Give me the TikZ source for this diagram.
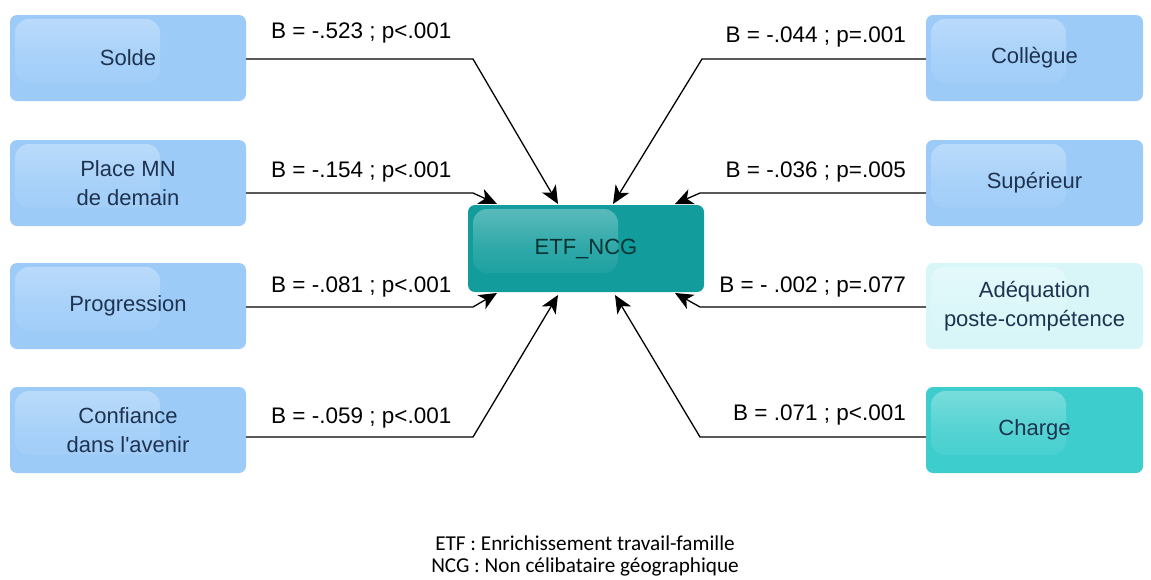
\documentclass[tikz,border=0pt]{standalone}
\usepackage{fontspec}
\setmainfont{Liberation Sans}
\newfontfamily\arialf{Liberation Sans}
\newfontfamily\calib{Carlito}
\usetikzlibrary{arrows.meta,calc}
\definecolor{lblue}{HTML}{9CCBF8}
\definecolor{teal1}{HTML}{129C9C}
\definecolor{cyanm}{HTML}{3ECDCD}
\definecolor{cyanl}{HTML}{D8F6F8}
\definecolor{navy}{HTML}{1E3350}
\definecolor{tealtxt}{HTML}{0A3434}
\tikzset{
  gbox/.style n args={3}{rectangle, rounded corners=7pt, fill=#1, text=navy,
    minimum width=#2, minimum height=86pt, inner sep=0pt, align=center,
    font=\arialf\fontsize{22}{29}\selectfont,
    path picture={\shade[rounded corners=14pt, top color=white!32!#1, bottom color=#1, middle color=white!12!#1]
      ($(path picture bounding box.north west)+(5,4)$) rectangle ++(#3,64);}},
  lab/.style={font=\arialf\fontsize{22.5}{26}\selectfont, inner sep=0pt},
  conn/.style={line width=1.3pt, -{Stealth[length=18pt,width=16pt,inset=5pt]}},
  foot/.style={font=\calib\fontsize{21.2}{24}\selectfont, align=center, inner sep=0pt}
}
\begin{document}
\begin{tikzpicture}[x=1pt,y=-1pt]
\useasboundingbox (0,0) rectangle (1151,579);
% left boxes
\node[gbox={lblue}{236pt}{145}] (solde) at (128,58) {Solde};
\node[gbox={lblue}{236pt}{145}] (pmn) at (128,183) {Place MN\\de demain};
\node[gbox={lblue}{236pt}{145}] (prog) at (128,306) {Progression};
\node[gbox={lblue}{236pt}{145}] (conf) at (128,430) {Confiance\\dans l'avenir};
% right boxes
\node[gbox={lblue}{217pt}{135}] (coll) at (1034.5,58) {Collègue};
\node[gbox={lblue}{217pt}{135}] (sup) at (1034.5,183) {Supérieur};
\node[gbox={cyanl}{217pt}{135}] (adeq) at (1034.5,306) {Adéquation\\poste-compétence};
\node[gbox={cyanm}{217pt}{135}] (charge) at (1034.5,430) {Charge};
% center
\node[gbox={teal1}{236pt}{145}, text=tealtxt, minimum height=87pt] (etf) at (586,248.5) {ETF\_NCG};
% bend and tip coordinates
\coordinate (bS) at (473,59);  \coordinate (tS) at (558,204);
\coordinate (bP) at (473,193); \coordinate (tP) at (497,204);
\coordinate (bR) at (473,307); \coordinate (tR) at (497,293);
\coordinate (bC) at (473,437); \coordinate (tC) at (558,295);
\coordinate (bK) at (702,59);  \coordinate (tK) at (613,204);
\coordinate (bU) at (700,193); \coordinate (tU) at (675,204);
\coordinate (bA) at (700,307); \coordinate (tA) at (675,293);
\coordinate (bH) at (700,437); \coordinate (tH) at (615,295);
% connectors
\draw[conn] (solde.east |- bS) -- (bS) -- (tS);
\draw[conn] (pmn.east |- bP) -- (bP) -- (tP);
\draw[conn] (prog.east |- bR) -- (bR) -- (tR);
\draw[conn] (conf.east |- bC) -- (bC) -- (tC);
\draw[conn] (coll.west |- bK) -- (bK) -- (tK);
\draw[conn] (sup.west |- bU) -- (bU) -- (tU);
\draw[conn] (adeq.west |- bA) -- (bA) -- (tA);
\draw[conn] (charge.west |- bH) -- (bH) -- (tH);
% labels
\node[lab, anchor=west] (lS) at (271,33) {B = -.523 ; p<.001};
\node[lab, anchor=west] (lP) at (271,172) {B = -.154 ; p<.001};
\node[lab, anchor=west] (lR) at (271,287) {B = -.081 ; p<.001};
\node[lab, anchor=west] (lC) at (271,418) {B = -.059 ; p<.001};
\node[lab, anchor=east] (lK) at (906,37) {B = -.044 ; p=.001};
\node[lab, anchor=east] (lU) at (906,172) {B = -.036 ; p=.005};
\node[lab, anchor=east] (lA) at (906,287) {B = - .002 ; p=.077};
\node[lab, anchor=east] (lH) at (906,415) {B = .071 ; p<.001};
% footer
\node[foot] (f1) at (585,543) {ETF : Enrichissement travail-famille};
\node[foot] (f2) at (585,567) {NCG : Non célibataire géographique};
\end{tikzpicture}
\end{document}
